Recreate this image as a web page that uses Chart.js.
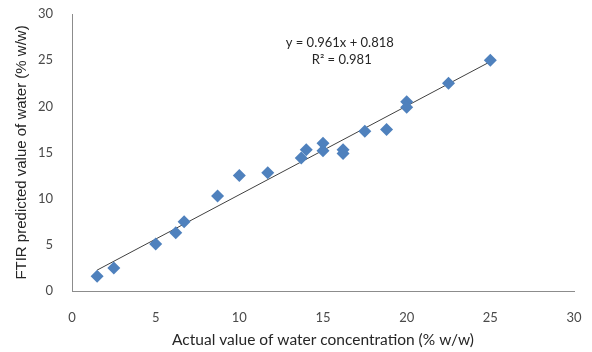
<!DOCTYPE html>
<html>
<head>
<meta charset="utf-8">
<script src="https://cdn.jsdelivr.net/npm/chart.js@4/dist/chart.umd.min.js"></script>
<style>
  html, body { margin: 0; padding: 0; background: #ffffff; }
  #wrap { width: 592px; height: 352px; }
</style>
</head>
<body>
<div id="wrap"><canvas id="c" width="592" height="352"></canvas></div>
<script>
// Data
const actualValues = [1.5, 2.5, 5.0, 6.2, 6.7, 8.7, 10.0, 11.7, 13.7, 14.0, 15.0, 15.0, 16.2, 16.2, 17.5, 18.8, 20.0, 20.0, 22.5, 25.0];
const predictedValues = [1.6, 2.5, 5.1, 6.3, 7.5, 10.3, 12.5, 12.8, 14.4, 15.3, 16.0, 15.2, 15.3, 14.9, 17.3, 17.5, 20.5, 19.9, 22.5, 25.0];
const xTicks = [0, 5, 10, 15, 20, 25, 30];
const yTicks = [0, 5, 10, 15, 20, 25, 30];
const trendSlope = 0.961;
const trendIntercept = 0.818;
const trendRange = [1.5, 25.0];
const equationLines = ['y = 0.961x + 0.818', 'R\u00B2 = 0.981'];
const xTitle = 'Actual value of water concentration (% w/w)';
const yTitle = 'FTIR predicted value of water (% w/w)';

const scatterPoints = actualValues.map((x, i) => ({ x: x, y: predictedValues[i] }));
const trendPoints = trendRange.map(x => ({ x: x, y: trendSlope * x + trendIntercept }));

const FONT = 'Lato, "Open Sans", sans-serif';
const YFONT = '"Liberation Sans", Arial, sans-serif';

const equationPlugin = {
  id: 'equation',
  afterDatasetsDraw(chart) {
    const { ctx, scales } = chart;
    ctx.save();
    ctx.fillStyle = '#262626';
    ctx.font = '13px ' + FONT;
    ctx.textAlign = 'center';
    ctx.textBaseline = 'middle';
    const cx = scales.x.getPixelForValue(16.0);
    const cy = scales.y.getPixelForValue(26.9);
    ctx.fillText(equationLines[0], cx, cy);
    ctx.fillText(equationLines[1], cx + 2, cy + 17);
    ctx.restore();
  }
};

new Chart(document.getElementById('c'), {
  type: 'scatter',
  data: {
    datasets: [
      {
        label: 'Trend',
        type: 'line',
        data: trendPoints,
        borderColor: '#404040',
        borderWidth: 1,
        pointRadius: 0,
        fill: false,
        order: 2
      },
      {
        label: 'Samples',
        data: scatterPoints,
        pointStyle: 'rectRot',
        pointRadius: 6.5,
        pointHoverRadius: 6.5,
        backgroundColor: '#4F81BD',
        borderColor: '#4F81BD',
        borderWidth: 0,
        order: 1
      }
    ]
  },
  options: {
    responsive: false,
    animation: false,
    devicePixelRatio: 1,
    layout: { padding: { top: 14, right: 18, left: 0, bottom: 0 } },
    plugins: {
      legend: { display: false },
      tooltip: { enabled: false }
    },
    scales: {
      x: {
        type: 'linear',
        min: xTicks[0],
        max: xTicks[xTicks.length - 1],
        afterBuildTicks(scale) { scale.ticks = xTicks.map(v => ({ value: v })); },
        afterFit(scale) { scale.height = 61; scale.paddingLeft = 6; scale.paddingRight = 6; },
        grid: { display: false, drawTicks: false },
        border: { display: true, color: '#8c8c8c', width: 1 },
        ticks: { color: '#4a4a4a', font: { family: FONT, size: 13 }, padding: 19 },
        title: {
          display: true,
          text: xTitle,
          color: '#262626',
          font: { family: FONT, size: 15.5 },
          padding: { top: 0, bottom: 3 }
        }
      },
      y: {
        type: 'linear',
        min: yTicks[0],
        max: yTicks[yTicks.length - 1],
        afterBuildTicks(scale) { scale.ticks = yTicks.map(v => ({ value: v })); },
        afterFit(scale) { scale.width = 72; scale.paddingTop = 6; scale.paddingBottom = 6; },
        grid: { display: false, drawTicks: false },
        border: { display: true, color: '#8c8c8c', width: 1 },
        ticks: { color: '#4a4a4a', font: { family: FONT, size: 13 }, padding: 19 },
        title: {
          display: true,
          text: yTitle,
          color: '#262626',
          font: { family: YFONT, size: 15 },
          padding: { top: 13, bottom: 0 }
        }
      }
    }
  },
  plugins: [equationPlugin]
});
</script>
</body>
</html>
